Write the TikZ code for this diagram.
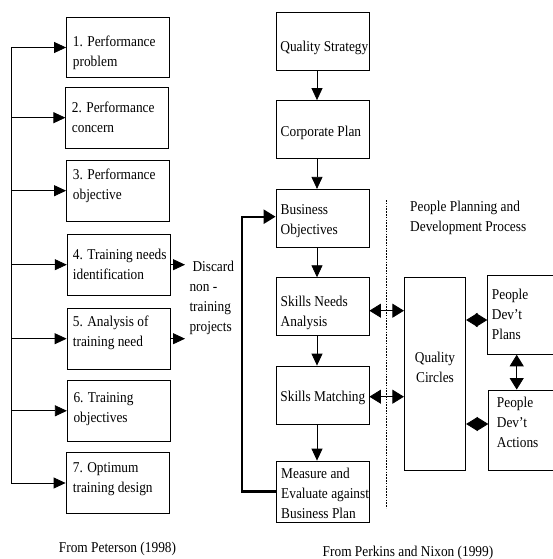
\documentclass[tikz,border=0pt]{standalone}
\usepackage{fontspec}
\setmainfont{Liberation Serif}[FakeStretch=0.89]
\usetikzlibrary{arrows.meta,calc}
\begin{document}
\begin{tikzpicture}[x=1pt,y=-1pt,
 box/.style={draw,line width=0.8pt,inner sep=0,minimum width=103pt,minimum height=60.5pt},
 rbox/.style={draw,line width=0.8pt,inner sep=0,minimum width=93pt,minimum height=58pt},
 txt/.style={inner sep=0,anchor=west,align=left,font=\fontsize{15}{20}\selectfont},
 ctxt/.style={inner sep=0,align=center,font=\fontsize{15}{20}\selectfont},
 arr/.style={line width=0.8pt,-{Triangle[length=12pt,width=11pt]}},
 darr/.style={line width=0.8pt,{Triangle[length=11.5pt,width=14pt]}-{Triangle[length=11.5pt,width=14pt]}},
 fbarr/.style={line width=2.4pt,-{Triangle[length=12pt,width=14pt]}},
 sep/.style={line width=1.5pt,dash pattern=on 1.5pt off 1.3pt}
]
\useasboundingbox (0,0) rectangle (552,559);

% ---------- left column (Peterson) ----------
\node[box] (b1) at (118,47.5) {};
\node[box] (b2) at (117.3,117.7) {};
\node[box] (b3) at (118,190.7) {};
\node[box] (b4) at (118.7,264.7) {};
\node[box] (b5) at (118.5,338.7) {};
\node[box] (b6) at (118.8,410.8) {};
\node[box] (b7) at (117.5,483) {};

\node[txt] (t1) at (72.7,53) {1. Performance\\problem};
\node[txt] (t2) at (71.7,117.7) {2. Performance\\concern};
\node[txt] (t3) at (72.7,186.3) {3. Performance\\objective};
\node[txt] (t4) at (72.7,264.5) {4. Training needs\\identification};
\node[txt] (t5) at (72.7,333.3) {5. Analysis of\\training need};
\node[txt] (t6) at (73.3,409.3) {6. Training\\objectives};
\node[txt] (t7) at (72.7,478.7) {7. Optimum\\training design};

\coordinate (spine) at (11,0);
\draw[line width=0.8pt] (spine |- b1.west) -- (spine |- b7.west);
\foreach \b in {b1,b2,b3,b4,b5,b6,b7}
  \draw[arr] (spine |- \b.west) -- (\b.west);

\node[txt] (disc) at (189.3,297.5) {\hspace{3pt}Discard\\non -\\training\\projects};
\coordinate (dend) at (185,0);
\draw[arr] (b4.east) -- (dend |- b4.east);
\draw[arr] (b5.east) -- (dend |- b5.east);

\node[ctxt] (cap1) at (117.5,549) {From Peterson (1998)};

% ---------- right part (Perkins and Nixon) ----------
\node[rbox] (qs) at (322.5,41.7) {};
\node[rbox] (cp) at (322.5,129.5) {};
\node[rbox] (bo) at (322.5,218.3) {};
\node[rbox] (sn) at (322.5,306.7) {};
\node[rbox] (sm) at (322.5,395) {};
\node[rbox,minimum height=61pt] (me) at (322.5,491.5) {};

\node[txt] (tqs) at (280.2,48.3) {Quality Strategy};
\node[txt] (tcp) at (280.5,133.3) {Corporate Plan};
\node[txt] (tbo) at (280.5,220.8) {Business\\Objectives};
\node[txt] (tsn) at (280.5,313.3) {Skills Needs\\Analysis};
\node[txt] (tsm) at (280.2,397.7) {Skills Matching};
\node[txt] (tme) at (281,493) {Measure and\\Evaluate against\\Business Plan};

\coordinate (ax) at (317,0);
\draw[arr] (ax |- qs.south) -- (ax |- cp.north);
\draw[arr] (ax |- cp.south) -- (ax |- bo.north);
\draw[arr] (ax |- bo.south) -- (ax |- sn.north);
\draw[arr] (ax |- sn.south) -- (ax |- sm.north);
\draw[arr] (ax |- sm.south) -- (ax |- me.north);

\coordinate (fb) at (242,0);
\coordinate (fbin) at (0,216.7);
\draw[fbarr] (me.west) -- (fb |- me.west) -- (fb |- fbin) -- (bo.west |- fbin);

\coordinate (dtop) at (386.7,200);
\coordinate (dbot) at (386.7,508);
\draw[sep] (dtop) -- (dbot);

\node[txt] (ppd) at (410,218.3) {People Planning and\\Development Process};

\node[draw,line width=0.8pt,inner sep=0,minimum width=61.4pt,minimum height=193.4pt] (qc) at (435,374) {};
\node[ctxt] (tqc) at (435,367.2) {Quality\\Circles};

\node[draw,line width=0.8pt,inner sep=0,minimum width=68.3pt,minimum height=79.3pt] (pdp) at (521.85,314.7) {};
\node[draw,line width=0.8pt,inner sep=0,minimum width=67.3pt,minimum height=80.7pt] (pda) at (522.35,430.3) {};
\node[txt] (tpdp) at (491.7,314.5) {People\\Dev’t\\Plans};
\node[txt] (tpda) at (496.7,422.6) {People\\Dev’t\\Actions};

\coordinate (y1) at (0,310.7);
\coordinate (y2) at (0,396.7);
\coordinate (y3) at (0,320);
\coordinate (y4) at (0,424);
\coordinate (xv) at (516.7,0);
\draw[darr] (sn.east |- y1) -- (qc.west |- y1);
\draw[darr] (sm.east |- y2) -- (qc.west |- y2);
\draw[darr] (qc.east |- y3) -- (pdp.west |- y3);
\draw[darr] (qc.east |- y4) -- (pda.west |- y4);
\draw[darr] (xv |- pdp.south) -- (xv |- pda.north);

\node[ctxt] (cap2) at (408,553) {From Perkins and Nixon (1999)};
\end{tikzpicture}
\end{document}
